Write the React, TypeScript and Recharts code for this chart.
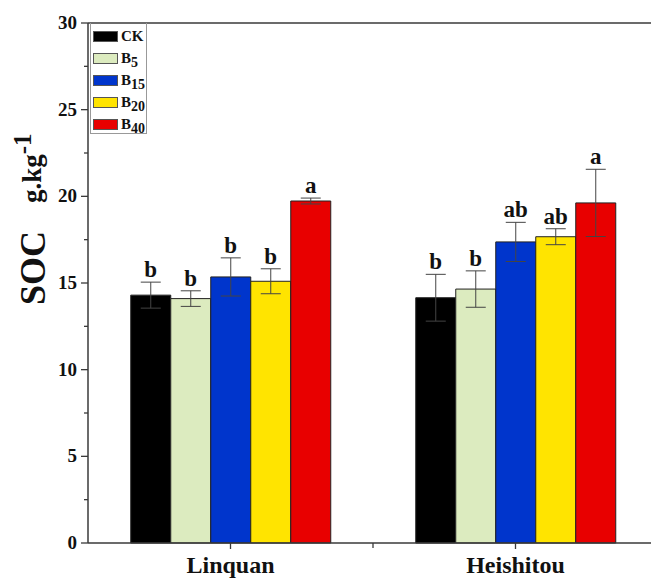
import React from "react"
import { BarChart, Bar, XAxis, YAxis, ErrorBar, LabelList, ReferenceLine } from "recharts"

const categories = ["Linquan", "Heishitou"]

const ck = [14.3, 14.15]
const ckErr = [0.75, 1.35]
const b5 = [14.1, 14.65]
const b5Err = [0.45, 1.05]
const b15 = [15.35, 17.37]
const b15Err = [1.1, 1.13]
const b20 = [15.1, 17.67]
const b20Err = [0.72, 0.46]
const b40 = [19.73, 19.62]
const b40Err = [0.17, 1.94]

const ckLetters = ["b", "b"]
const b5Letters = ["b", "b"]
const b15Letters = ["b", "ab"]
const b20Letters = ["b", "ab"]
const b40Letters = ["a", "a"]

const yTicks = [0, 2.5, 5, 7.5, 10, 12.5, 15, 17.5, 20, 22.5, 25, 27.5, 30]

const series = [
  { key: "CK", base: "CK", sub: "", color: "#000000", values: ck, err: ckErr, letters: ckLetters },
  { key: "B5", base: "B", sub: "5", color: "#dcebbf", values: b5, err: b5Err, letters: b5Letters },
  { key: "B15", base: "B", sub: "15", color: "#0035cc", values: b15, err: b15Err, letters: b15Letters },
  { key: "B20", base: "B", sub: "20", color: "#ffe400", values: b20, err: b20Err, letters: b20Letters },
  { key: "B40", base: "B", sub: "40", color: "#e80000", values: b40, err: b40Err, letters: b40Letters },
]

const data = categories.map((name, i) => {
  const row: Record<string, string | number> = { name }
  series.forEach((s) => {
    row[s.key] = s.values[i]
    row[s.key + "_err"] = s.err[i]
  })
  return row
})

const CHART_W = 670
const CHART_H = 579
const MARGIN = { top: 23, right: 12, bottom: 0, left: 0 }
const YAXIS_W = 88
const XAXIS_H = 36
const PLOT_W = CHART_W - MARGIN.left - MARGIN.right - YAXIS_W
const BAND = PLOT_W / categories.length

const FONT = "Liberation Serif, Times New Roman, serif"
const AXIS = "#3a3a3a"

function YTick(props: any) {
  const { x, y, payload } = props
  const major = payload.value % 5 === 0
  return (
    <g>
      <line x1={x} x2={x - (major ? 7 : 4)} y1={y} y2={y} stroke={AXIS} strokeWidth={1.3} />
      {major && (
        <text x={x - 11} y={y} dy={6} textAnchor="end" fontFamily={FONT} fontWeight="bold" fontSize={19} fill="#111">
          {payload.value}
        </text>
      )}
    </g>
  )
}

function XTick(props: any) {
  const { x, y, payload, index } = props
  return (
    <g>
      <line x1={x} x2={x} y1={y} y2={y + 6} stroke={AXIS} strokeWidth={1.3} />
      {index === 0 && (
        <line x1={x + BAND / 2} x2={x + BAND / 2} y1={y} y2={y + 5} stroke={AXIS} strokeWidth={1.3} />
      )}
      <text x={x} y={y + 30} textAnchor="middle" fontFamily={FONT} fontWeight="bold" fontSize={24} fill="#111">
        {payload.value}
      </text>
    </g>
  )
}

function YLabel() {
  return (
    <g fontFamily={FONT} fontWeight="bold" fill="#111">
      <text x={45} y={268} transform="rotate(-90, 45, 268)" textAnchor="middle" fontSize={36}>
        SOC
      </text>
      <text x={41} y={203} transform="rotate(-90, 41, 203)" textAnchor="start" fontSize={27}>
        g.kg
        <tspan dy={-10} fontSize={25}>-1</tspan>
      </text>
    </g>
  )
}

function makeLetter(err: number[], letters: string[]) {
  return (props: any) => {
    const { x, y, width, height, index, value } = props
    const pxPerUnit = height / value
    const top = y - err[index] * pxPerUnit
    return (
      <text x={x + width / 2} y={top - 5} textAnchor="middle" fontFamily={FONT} fontWeight="bold" fontSize={23} fill="#111">
        {letters[index]}
      </text>
    )
  }
}

function LegendBox() {
  return (
    <div
      style={{
        position: "absolute",
        left: 90,
        top: 23,
        width: 57,
        height: 111,
        border: "1px solid #999",
        borderTop: "none",
        paddingTop: 2,
        boxSizing: "border-box",
        fontFamily: FONT,
        fontWeight: "bold",
        color: "#111",
      }}
    >
      {series.map((s) => (
        <div key={s.key} style={{ display: "flex", alignItems: "center", height: 22, paddingLeft: 2 }}>
          <div
            style={{
              width: 23,
              height: 9,
              background: s.color,
              border: "1px solid #555",
              marginRight: 3,
              flexShrink: 0,
            }}
          />
          <span style={{ fontSize: 15, lineHeight: "15px", whiteSpace: "nowrap" }}>
            {s.base}
            {s.sub && <span style={{ fontSize: 14, position: "relative", top: 4 }}>{s.sub}</span>}
          </span>
        </div>
      ))}
    </div>
  )
}

export default function App() {
  return (
    <div style={{ position: "fixed", left: 0, top: 0, width: 651, height: 579, overflow: "hidden", background: "#fff" }}>
      <BarChart
        width={CHART_W}
        height={CHART_H}
        data={data}
        margin={MARGIN}
        barGap={0}
        barCategoryGap="15%"
      >
        <XAxis
          dataKey="name"
          height={XAXIS_H}
          tickSize={0}
          tickMargin={0}
          tickLine={false}
          stroke={AXIS}
          strokeWidth={1.5}
          tick={<XTick />}
          interval={0}
        />
        <YAxis
          width={YAXIS_W}
          domain={[0, 30]}
          ticks={yTicks}
          interval={0}
          tickSize={0}
          tickMargin={0}
          tickLine={false}
          stroke={AXIS}
          strokeWidth={1.5}
          tick={<YTick />}
          label={{ content: () => <YLabel /> }}
        />
        <ReferenceLine y={30} stroke={AXIS} strokeWidth={1.5} />
        {series.map((s) => (
          <Bar
            key={s.key}
            dataKey={s.key}
            fill={s.color}
            stroke="#222"
            strokeWidth={1}
            isAnimationActive={false}
          >
            <ErrorBar dataKey={s.key + "_err"} width={10} stroke="#444" strokeWidth={1} isAnimationActive={false} />
            <LabelList dataKey={s.key} content={makeLetter(s.err, s.letters)} />
          </Bar>
        ))}
      </BarChart>
      <LegendBox />
    </div>
  )
}
